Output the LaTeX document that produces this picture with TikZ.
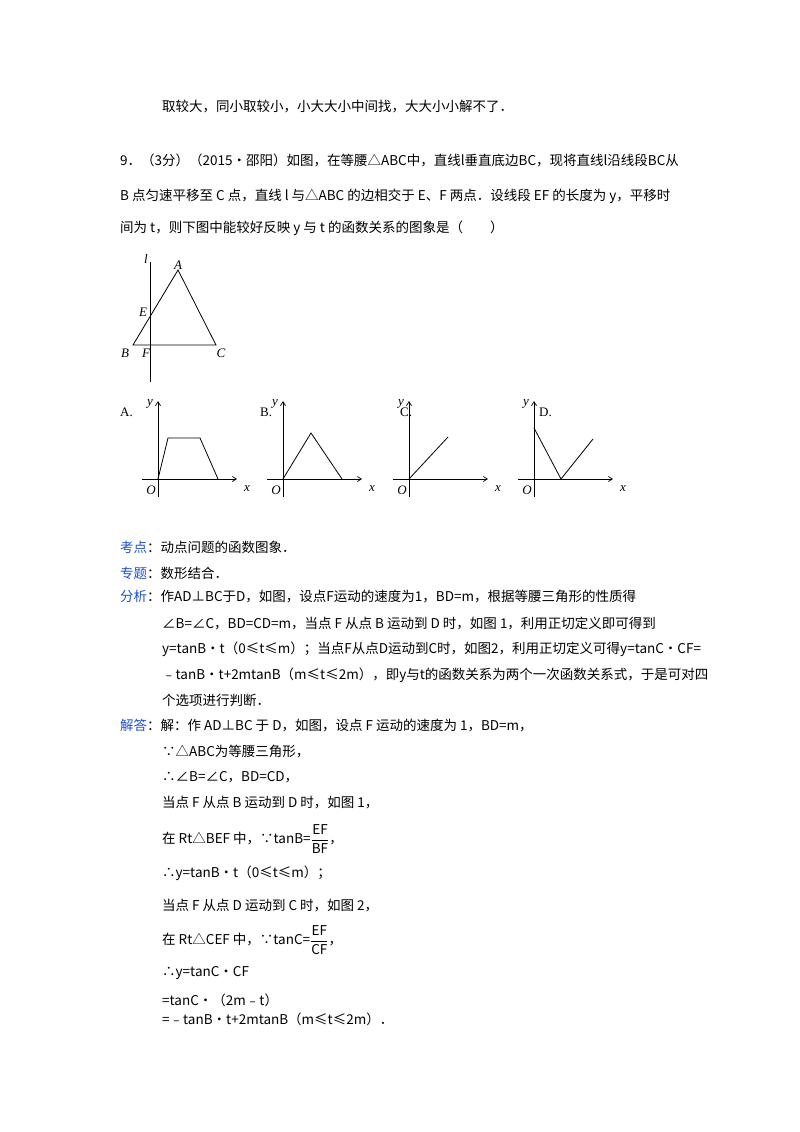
\documentclass[tikz,border=0pt]{standalone}
\usepackage{fontspec}
\usetikzlibrary{arrows.meta}
\setmainfont{Noto Sans CJK SC}
\newfontfamily\lat{Liberation Serif}
\definecolor{kblue}{RGB}{30,80,200}
\begin{document}
\begin{tikzpicture}[x=1pt,y=-1pt,
 t/.style={anchor=west,inner sep=0pt,font=\fontsize{13.5}{16}\selectfont},
 lab/.style={inner sep=0pt,font=\lat\itshape\fontsize{13}{15}\selectfont},
 ax/.style={line width=0.7pt,-{Straight Barb[length=4pt,width=5pt]}},
 ln/.style={line width=0.8pt}]
\useasboundingbox (0,0) rectangle (800,1132);
\node[t] (l1) at (162,107) {取较大，同小取较小，小大大小中间找，大大小小解不了．};
\node[t] (l2) at (120,160) {9．（3分）（2015•邵阳）如图，在等腰△ABC中，直线l垂直底边BC，现将直线l沿线段BC从};
\node[t] (l3) at (120,196) {B 点匀速平移至 C 点，直线 l 与△ABC 的边相交于 E、F 两点．设线段 EF 的长度为 y，平移时};
\node[t] (l4) at (120,228) {间为 t，则下图中能较好反映 y 与 t 的函数关系的图象是（\quad\quad）};
% triangle
\coordinate (A) at (178,270); \coordinate (B) at (133,345); \coordinate (C) at (216,345);
\coordinate (lt) at (150,262); \coordinate (lb) at (150,382);
\draw[ln] (A)--(B)--(C)--cycle; \draw[ln] (lt)--(lb);
\node[lab] at (146,259) {l}; \node[lab] at (178,265) {A}; \node[lab] at (143,312) {E};
\node[lab] at (125,353) {B}; \node[lab] at (146,353) {F}; \node[lab] at (221,353) {C};
% graphs
\foreach \L/\ox/\xe/\lx in {A/158/237/120,B/283/362/260,C/409/488/400,D/534/613/539}{
 \node[t,font=\lat\fontsize{13}{15}\selectfont] at (\lx,412) {\L.};
 \coordinate (O\L) at (\ox,479);
 \draw[ax] (\ox-16,479)--(\xe,479);
 \draw[ax] (\ox,497)--(\ox,401);
 \node[lab] at (\ox-7,490) {O}; \node[lab] at (\xe+10,489) {x}; \node[lab] at (\ox-8,404) {y};
}
\draw[ln] (OA)--(168,438)--(200,438)--(218,479);
\draw[ln] (OB)--(311,433)--(342,479);
\draw[ln] (OC)--(448,437);
\draw[ln] (534,428)--(561,479)--(593,439);
% analysis
\node[t] at (120,547) {\textcolor{kblue}{考点}：动点问题的函数图象．};
\node[t] at (120,573) {\textcolor{kblue}{专题}：数形结合．};
\node[t] at (120,597) {\textcolor{kblue}{分析}：作AD⊥BC于D，如图，设点F运动的速度为1，BD=m，根据等腰三角形的性质得};
\node[t] at (162,623) {∠B=∠C，BD=CD=m，当点 F 从点 B 运动到 D 时，如图 1，利用正切定义即可得到};
\node[t] at (162,649) {y=tanB•t（0≤t≤m）；当点F从点D运动到C时，如图2，利用正切定义可得y=tanC•CF=};
\node[t] at (162,675) {﹣tanB•t+2mtanB（m≤t≤2m），即y与t的函数关系为两个一次函数关系式，于是可对四};
\node[t] at (162,700) {个选项进行判断．};
\node[t] at (120,726) {\textcolor{kblue}{解答}：解：作 AD⊥BC 于 D，如图，设点 F 运动的速度为 1，BD=m，};
\node[t] at (162,752) {∵△ABC为等腰三角形，};
\node[t] at (162,777) {∴∠B=∠C，BD=CD，};
\node[t] at (162,803) {当点 F 从点 B 运动到 D 时，如图 1，};
\node[t] at (162,839) {在 Rt△BEF 中，∵tanB=$\displaystyle\frac{\mathrm{EF}}{\mathrm{BF}}$，};
\node[t] at (162,873) {∴y=tanB•t（0≤t≤m）；};
\node[t] at (162,906) {当点 F 从点 D 运动到 C 时，如图 2，};
\node[t] at (162,940) {在 Rt△CEF 中，∵tanC=$\displaystyle\frac{\mathrm{EF}}{\mathrm{CF}}$，};
\node[t] at (162,973) {∴y=tanC•CF};
\node[t] at (162,1000) {=tanC•（2m﹣t）};
\node[t] at (162,1019) {=﹣tanB•t+2mtanB（m≤t≤2m）．};
\end{tikzpicture}
\end{document}
